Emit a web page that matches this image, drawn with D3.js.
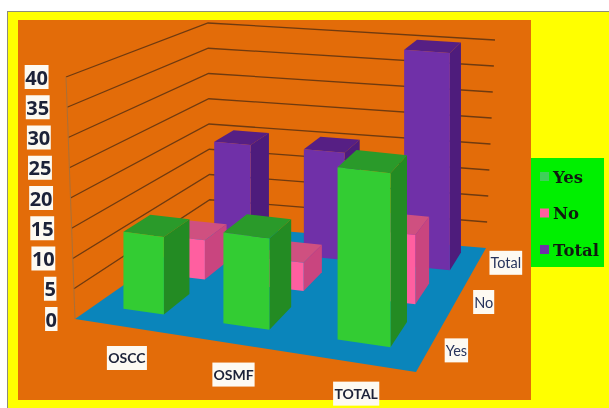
<!DOCTYPE html>
<html><head><meta charset="utf-8">
<script src="https://cdnjs.cloudflare.com/ajax/libs/d3/7.8.5/d3.min.js"></script>
<style>html,body{margin:0;padding:0;background:#fff;overflow:hidden}svg{display:block;filter:blur(.45px)}</style>
</head><body><svg id="c" width="609" height="408"></svg>
<script>
const categories = ["OSCC","OSMF","TOTAL"];
const seriesNames = ["Yes","No","Total"];
const yesValues = [13,15,28];
const noValues = [7,5,12];
const totalValues = [20,20,40];
const yTicks = [0,5,10,15,20,25,30,35,40];

const seriesValues = [yesValues,noValues,totalValues];
const colors = [
 {front:"#33cc33",side:"#238b23",top:"#2a9a2a",key:"#3fd05a"},
 {front:"#ff5fa0",side:"#c9457f",top:"#cf5080",key:"#ff5fa0"},
 {front:"#7030a8",side:"#4e1c7c",top:"#561f84",key:"#7030a8"}
];
const floorQuad = [[75,319],[416,372],[486,248],[210,225]];
const topQuad = [[66,77],[409,114],[495,40],[208,23]];
// nearer rows sit slightly further left than the floor quad alone gives
const rowLean = d3.scaleOrdinal().domain(seriesNames).range([-.03,-.038,-.004]);

function homography(q){
  const [[x0,y0],[x1,y1],[x2,y2],[x3,y3]] = q;
  const dx1=x1-x2,dx2=x3-x2,sx=x0-x1+x2-x3,dy1=y1-y2,dy2=y3-y2,sy=y0-y1+y2-y3;
  const det=dx1*dy2-dx2*dy1;
  const g=(sx*dy2-dx2*sy)/det,h=(dx1*sy-sx*dy1)/det;
  const a=x1-x0+g*x1,b=x3-x0+h*x3,d=y1-y0+g*y1,e=y3-y0+h*y3;
  return (u,v)=>{const w=g*u+h*v+1;return [(a*u+b*v+x0)/w,(d*u+e*v+y0)/w];};
}
const hFloor=homography(floorQuad),hTop=homography(topQuad);
const yScale=d3.scaleLinear().domain([0,40]).range([0,1]);
const xBand=d3.scaleBand().domain(categories).range([0,1]).paddingInner(.58).paddingOuter(.29).align(.68);
const zBand=d3.scaleBand().domain(seriesNames).range([0,1]).paddingInner(.43).paddingOuter(.3025).align(.64);
function P(u,v,val){
  const t=yScale(val),a=hFloor(u,v),b=hTop(u,v);
  return [a[0]+(b[0]-a[0])*t,a[1]+(b[1]-a[1])*t];
}
function B(u,v,val){
  return [hFloor(u,v)[0],P(u,v,val)[1]];
}
const svg=d3.select("#c");
const path=pts=>d3.line()(pts)+"Z";

svg.append("rect").attr("x",7).attr("y",11).attr("width",602).attr("height",397).attr("fill","#8c8c7a");
svg.append("rect").attr("x",8).attr("y",12).attr("width",601).attr("height",396).attr("fill","#ffff00");
svg.append("rect").attr("x",18).attr("y",20).attr("width",513).attr("height",380).attr("fill","#e36c09");

svg.append("path").attr("d",path(floorQuad)).attr("fill","#0a85bb");

const grid=svg.append("g").attr("fill","none").attr("stroke","#6f3a10").attr("stroke-width",1.3);
yTicks.forEach(t=>{
  if(t>0) grid.append("path").attr("d",d3.line()([P(0,0,t),P(0,1,t),P(1,1,t)]));
});
svg.append("path").attr("d",d3.line()([P(0,0,0),P(0,0,40)])).attr("stroke","#a8703a").attr("fill","none");

[2,1,0].forEach(si=>{
  const c=colors[si],g=svg.append("g");
  categories.forEach((cat,ci)=>{
    const val=seriesValues[si][ci];
    const u0=xBand(cat)+rowLean(seriesNames[si]),u1=u0+xBand.bandwidth();
    const v0=zBand(seriesNames[si]),v1=v0+zBand.bandwidth();
    g.append("path").attr("d",path([B(u1,v0,0),B(u1,v1,0),B(u1,v1,val),B(u1,v0,val)])).attr("fill",c.side);
    g.append("path").attr("d",path([B(u0,v0,val),B(u1,v0,val),B(u1,v1,val),B(u0,v1,val)])).attr("fill",c.top);
    g.append("path").attr("d",path([B(u0,v0,0),B(u1,v0,0),B(u1,v0,val),B(u0,v0,val)])).attr("fill",c.front);
  });
});

function label(cx,cy,text,font,size,weight,pad,color){
  const g=svg.append("g");
  const box=g.append("rect").attr("fill","#fdfaf2");
  const t=g.append("text").attr("x",cx).attr("y",cy).attr("text-anchor","middle")
    .attr("dominant-baseline","central").attr("font-family",font).attr("font-size",size)
    .attr("font-weight",weight).attr("fill",color||"#1c2238").text(text);
  const b=t.node().getBBox();
  box.attr("x",cx-b.width/2-pad).attr("y",cy-12).attr("width",b.width+2*pad).attr("height",24);
  return g;
}
yTicks.forEach(t=>{
  const p=P(0,0,t);
  const s=String(t),w=s.length*11.4;
  label(p[0]-18-w/2,p[1],s,"'Open Sans',sans-serif",20,700,0.5);
});
categories.forEach(cat=>{
  const u=xBand(cat)+xBand.bandwidth()/2,p=hFloor(u,0);
  label(p[0]-6,p[1]+30,cat,"Lato,sans-serif",14,700,1);
});
seriesNames.forEach(name=>{
  const v=zBand(name)+zBand.bandwidth()/2,p=hFloor(1,v*1.1-.13);
  label(p[0]+31,p[1]-5,name,"Lato,sans-serif",14.5,400,1,"#27345c");
});

svg.append("rect").attr("x",531).attr("y",158).attr("width",73).attr("height",109).attr("fill","#00f000");
seriesNames.forEach((name,i)=>{
  const y=177+i*36.5;
  svg.append("rect").attr("x",540).attr("y",y-5).attr("width",9).attr("height",9).attr("fill",colors[i].key);
  svg.append("text").attr("x",553).attr("y",y).attr("dominant-baseline","central")
    .attr("font-family","'DejaVu Serif',serif").attr("font-weight",700).attr("font-size",16.5).attr("fill","#101a10").text(name);
});
</script></body></html>
